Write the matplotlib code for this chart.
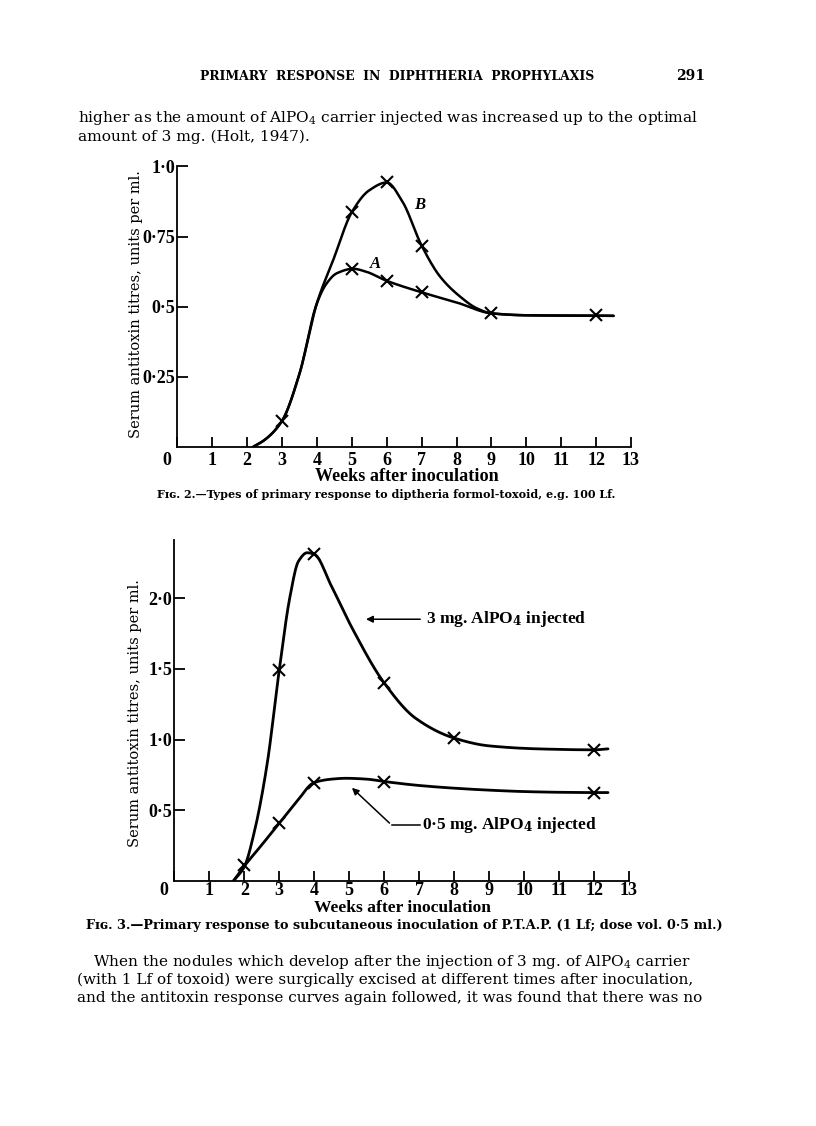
import numpy as np
import matplotlib
matplotlib.use("Agg")
import matplotlib.pyplot as plt
from matplotlib.transforms import ScaledTranslation

plt.rcParams['font.family'] = ['DejaVu Serif', 'Liberation Serif']
plt.rcParams['mathtext.fontset'] = 'dejavuserif'

# ---------------- data ----------------
# Fig. 2
weeks_ticks = list(range(0, 14))
fig2_yticks = [0.25, 0.5, 0.75, 1.0]
fig2_yticklabels = ["0·25", "0·5", "0·75", "1·0"]

curveA_x = [2.18, 2.5, 3.0, 3.5, 4.0, 4.28, 4.57, 5.04, 5.4, 6.0, 7.0, 8.0, 9.0, 10.0, 11.0, 12.0, 12.5]
curveA_y = [0.0, 0.024, 0.092, 0.26, 0.512, 0.583, 0.619, 0.635, 0.625, 0.592, 0.551, 0.515, 0.476, 0.469, 0.468, 0.468, 0.467]
curveB_x = [2.18, 2.5, 3.0, 3.5, 4.0, 4.47, 5.0, 5.5, 6.0, 6.45, 7.0, 7.53, 8.1, 8.58, 9.0, 10.0, 12.5]
curveB_y = [0.0, 0.024, 0.092, 0.26, 0.512, 0.667, 0.837, 0.915, 0.943, 0.875, 0.718, 0.607, 0.536, 0.494, 0.476, 0.469, 0.467]
markA_x = [3, 5, 6, 7, 9, 12]
markA_y = [0.092, 0.635, 0.592, 0.551, 0.476, 0.471]
markB_x = [5, 6, 7]
markB_y = [0.837, 0.943, 0.718]

# Fig. 3
fig3_yticks = [0.5, 1.0, 1.5, 2.0]
fig3_yticklabels = ["0·5", "1·0", "1·5", "2·0"]
mg3_x = [1.69, 2.0, 2.3, 2.65, 3.0, 3.3, 3.55, 3.8, 4.0, 4.5, 5.1, 6.0, 6.9, 8.0, 9.0, 10.5, 12.0, 12.4]
mg3_y = [0.0, 0.1, 0.36, 0.82, 1.49, 2.0, 2.26, 2.32, 2.31, 2.08, 1.78, 1.40, 1.15, 1.01, 0.955, 0.933, 0.927, 0.934]
mg05_x = [1.69, 2.0, 2.5, 3.0, 3.5, 4.0, 4.5, 4.9, 5.5, 6.0, 7.0, 8.0, 9.0, 10.0, 11.0, 12.0, 12.4]
mg05_y = [0.0, 0.105, 0.255, 0.408, 0.56, 0.696, 0.72, 0.726, 0.72, 0.703, 0.675, 0.656, 0.642, 0.632, 0.627, 0.625, 0.625]
mark3_x = [3, 4, 6, 8, 12]
mark3_y = [1.49, 2.31, 1.40, 1.01, 0.927]
mark05_x = [2, 3, 4, 6, 12]
mark05_y = [0.113, 0.408, 0.696, 0.703, 0.625]


def pchip(x, y, n=400):
    x = np.asarray(x, float); y = np.asarray(y, float)
    h = np.diff(x); d = np.diff(y) / h
    m = np.zeros_like(x)
    for k in range(1, len(x) - 1):
        if d[k - 1] * d[k] <= 0:
            m[k] = 0.0
        else:
            w1 = 2 * h[k] + h[k - 1]; w2 = h[k] + 2 * h[k - 1]
            m[k] = (w1 + w2) / (w1 / d[k - 1] + w2 / d[k])
    m[0] = d[0]; m[-1] = d[-1]
    xs = np.linspace(x[0], x[-1], n)
    idx = np.clip(np.searchsorted(x, xs) - 1, 0, len(x) - 2)
    t = (xs - x[idx]) / h[idx]
    h00 = 2 * t**3 - 3 * t**2 + 1; h10 = t**3 - 2 * t**2 + t
    h01 = -2 * t**3 + 3 * t**2; h11 = t**3 - t**2
    ys = h00 * y[idx] + h10 * h[idx] * m[idx] + h01 * y[idx + 1] + h11 * h[idx] * m[idx + 1]
    return xs, ys


W, H = 816, 1126
fig = plt.figure(figsize=(W / 100, H / 100), dpi=100)
renderer = fig.canvas.get_renderer()
TICKFONT = ['Liberation Serif', 'DejaVu Serif']


def fx(px):
    return px / W


def fy(py):
    return 1 - py / H


def fit(t, target, vertical=False):
    bb = t.get_window_extent(renderer)
    cur = bb.height if vertical else bb.width
    if cur > 0:
        t.set_fontsize(t.get_fontsize() * target / cur)
    return t.get_fontsize()


def ptext(px, py, s, size, width=None, **kw):
    t = fig.text(fx(px), fy(py), s, fontsize=size, va='center', **kw)
    if width:
        fit(t, width)
    return t


# ---------------- page text ----------------
ptext(397, 76, "PRIMARY  RESPONSE  IN  DIPHTHERIA  PROPHYLAXIS", 8, width=395, ha='center', fontweight='bold')
ptext(676, 76, "291", 10, ha='left', fontweight='bold')
t1 = ptext(78, 118, r"higher as the amount of AlPO$_4$ carrier injected was increased up to the optimal", 11, width=620, ha='left')
ptext(78, 137, "amount of 3 mg. (Holt, 1947).", t1.get_fontsize(), ha='left')
ptext(386, 495, "Fɪɢ. 2.—Types of primary response to diptheria formol-toxoid, e.g. 100 Lf.", 8, width=458, ha='center', fontweight='bold')
ptext(404, 925, "Fɪɢ. 3.—Primary response to subcutaneous inoculation of P.T.A.P. (1 Lf; dose vol. 0·5 ml.)", 8, width=640, ha='center', fontweight='bold')
t2 = ptext(77, 980, "(with 1 Lf of toxoid) were surgically excised at different times after inoculation,", 11, width=615, ha='left')
bs = t2.get_fontsize()
ptext(93, 962, r"When the nodules which develop after the injection of 3 mg. of AlPO$_4$ carrier", bs, ha='left')
ptext(77, 998, "and the antitoxin response curves again followed, it was found that there was no", bs, ha='left')


def style_axes(ax, ymax, yt, ytl, xlabel_pos, ylabel_pos, xpad):
    ax.set_xlim(0, 13)
    ax.set_ylim(0, ymax)
    for s in ['top', 'right']:
        ax.spines[s].set_visible(False)
    for s in ['left', 'bottom']:
        ax.spines[s].set_linewidth(1.3)
    ax.set_xticks(weeks_ticks)
    ax.set_xticklabels([str(w) for w in weeks_ticks], fontsize=13, fontweight='bold', family=TICKFONT)
    ax.set_yticks(yt)
    ax.set_yticklabels(ytl, fontsize=13, fontweight='bold', family=TICKFONT)
    ax.tick_params(axis='x', direction='in', length=7.5, width=1.3, pad=xpad)
    ax.tick_params(axis='y', direction='in', length=8, width=1.3, pad=1.5)
    lbl0 = ax.get_xticklabels()[0]
    lbl0.set_transform(lbl0.get_transform() + ScaledTranslation(-10 / 100, 0, fig.dpi_scale_trans))
    xl = ax.set_xlabel("Weeks after inoculation", fontsize=13, fontweight='bold', family=TICKFONT)
    ax.xaxis.set_label_coords(*xlabel_pos)
    xl.set_va('center')
    yl = ax.set_ylabel("Serum antitoxin titres, units per ml.", fontsize=11)
    ax.yaxis.set_label_coords(*ylabel_pos)
    yl.set_va('center')
    return xl, yl


lw = 1.8
mk = dict(marker='x', markersize=8, markeredgewidth=1.5, color='black', linestyle='none')

# ---------------- Fig. 2 ----------------
ax1 = fig.add_axes([fx(177.3), fy(446.7), fx(631 - 177.3), (446.7 - 166.5) / H])
xs, ys = pchip(curveA_x, curveA_y)
ax1.plot(xs, ys, color='black', lw=lw, solid_capstyle='round')
xs, ys = pchip(curveB_x, curveB_y)
ax1.plot(xs, ys, color='black', lw=lw, solid_capstyle='round')
ax1.plot(markA_x, markA_y, **mk)
ax1.plot(markB_x, markB_y, **mk)
ax1.text(6.95, 0.863, "B", fontsize=12, fontstyle='italic', fontweight='bold', ha='center', va='center', family=TICKFONT)
ax1.text(5.69, 0.652, "A", fontsize=12, fontstyle='italic', fontweight='bold', ha='center', va='center', family=TICKFONT)
xl1, yl1 = style_axes(ax1, 1.0, fig2_yticks, fig2_yticklabels, (0.507, -0.107), (-0.09, 0.51), 3.5)
fit(xl1, 182)
fit(yl1, 267, vertical=True)

# ---------------- Fig. 3 ----------------
ax2 = fig.add_axes([fx(174.3), fy(881), fx(629 - 174.3), (881 - 540) / H])
xs, ys = pchip(mg3_x, mg3_y)
ax2.plot(xs, ys, color='black', lw=lw + 0.2, solid_capstyle='round')
xs, ys = pchip(mg05_x, mg05_y)
ax2.plot(xs, ys, color='black', lw=lw + 0.2, solid_capstyle='round')
ax2.plot(mark3_x, mark3_y, **mk)
ax2.plot(mark05_x, mark05_y, **mk)
ax2.annotate("", xy=(5.4, 1.85), xytext=(7.11, 1.85),
             arrowprops=dict(arrowstyle='-|>', color='black', lw=1.1, mutation_scale=10))
ann_font = 12.5
ax2.text(7.2, 1.85, r"3 mg. AlPO$_\mathbf{4}$ injected", fontsize=ann_font, fontweight='bold', ha='left', va='center', family=TICKFONT)
ax2.plot([6.21, 7.02], [0.396, 0.396], color='black', lw=1.1)
ax2.annotate("", xy=(5.02, 0.672), xytext=(6.21, 0.396),
             arrowprops=dict(arrowstyle='-|>', color='black', lw=1.1, mutation_scale=10))
ax2.text(7.07, 0.396, r"0·5 mg. AlPO$_\mathbf{4}$ injected", fontsize=ann_font, fontweight='bold', ha='left', va='center', family=TICKFONT)
xl2, yl2 = style_axes(ax2, 2.41, fig3_yticks, fig3_yticklabels, (0.501, -0.08), (-0.086, 0.493), 0.8)
fit(xl2, 176)
fit(yl2, 267, vertical=True)

fig.savefig("out.png", dpi=100)
